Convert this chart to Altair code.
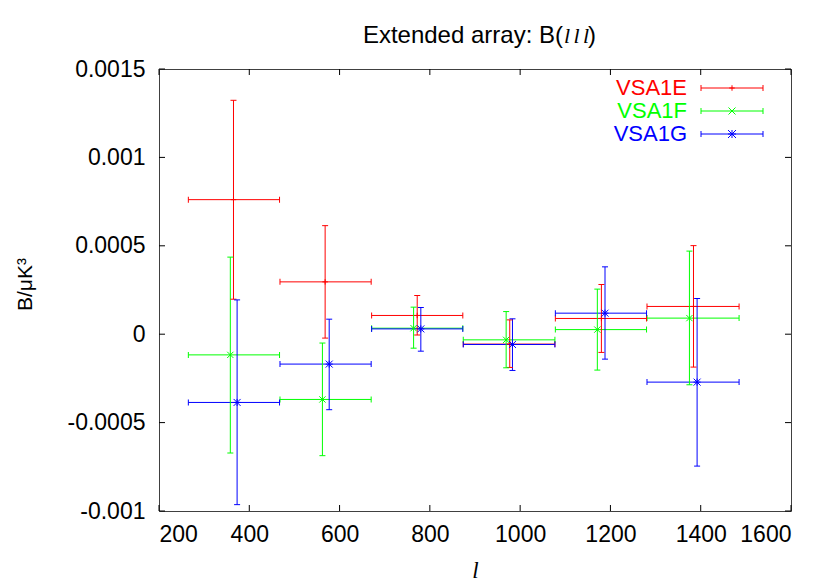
import altair as alt
import pandas as pd

series = ["VSA1E", "VSA1F", "VSA1G"]
colors = ["#ff0000", "#00ff00", "#0000ff"]

bin_lo = [265, 468, 671, 874, 1078, 1281]
bin_hi = [467, 670, 873, 1077, 1280, 1485]

x_e = [365, 568, 772, 977, 1180, 1384]
y_e = [0.000761, 0.000296, 0.000106, -0.000056, 0.000089, 0.000157]
lo_e = [0.000198, -0.000022, -0.000005, -0.000188, -0.000103, -0.000186]
hi_e = [0.001323, 0.000614, 0.000219, 0.000081, 0.000281, 0.000501]

x_f = [358, 562, 764, 969, 1171, 1375]
y_f = [-0.000117, -0.000369, 0.000034, -0.000032, 0.000026, 0.000091]
lo_f = [-0.000672, -0.000687, -0.000079, -0.000190, -0.000203, -0.000286]
hi_f = [0.000436, -0.000050, 0.000153, 0.000128, 0.000255, 0.000470]

x_g = [373, 577, 780, 983, 1188, 1392]
y_g = [-0.000386, -0.000169, 0.000030, -0.000058, 0.000119, -0.000271]
lo_g = [-0.000964, -0.000427, -0.000096, -0.000205, -0.000141, -0.000746]
hi_g = [0.000194, 0.000085, 0.000151, 0.000087, 0.000381, 0.000202]

x_ticks = [200, 400, 600, 800, 1000, 1200, 1400, 1600]
y_ticks = [-0.001, -0.0005, 0, 0.0005, 0.001, 0.0015]

rows = []
for name, xs_, ys_, los, his in [("VSA1E", x_e, y_e, lo_e, hi_e),
                                 ("VSA1F", x_f, y_f, lo_f, hi_f),
                                 ("VSA1G", x_g, y_g, lo_g, hi_g)]:
    for i in range(len(xs_)):
        rows.append(dict(series=name, x=xs_[i], y=ys_[i], ylo=los[i], yhi=his[i],
                         xlo=bin_lo[i], xhi=bin_hi[i]))
df = pd.DataFrame(rows)

W, H = 632, 442
FONT = "Liberation Sans"
FS = 23

plus_path = "M-1,0H1M0,-1V1"
x_path = "M-1,-1L1,1M-1,1L1,-1"
star_path = "M-1,-1L1,1M-1,1L1,-1M0,-1V1M-1,0H1"

xsc = alt.Scale(domain=[200, 1600], nice=False, zero=False)
ysc = alt.Scale(domain=[-0.001, 0.0015], nice=False, zero=False)
col = alt.Color("series:N", scale=alt.Scale(domain=series, range=colors), legend=None)

xaxis = alt.Axis(values=x_ticks, ticks=False, domain=False, grid=False,
                 labelExpr="'' + datum.value",
                 labelFont=FONT, labelFontSize=FS, labelColor="black", labelPadding=12,
                 title="l", titleFont="Liberation Serif", titleFontStyle="italic",
                 titleFontWeight="normal", titleFontSize=23, titleColor="black",
                 titleX=W / 2, titleY=59, titleBaseline="middle", titleAlign="center")
yaxis = alt.Axis(values=y_ticks, ticks=False, domain=False, grid=False,
                 labelExpr="'' + datum.value",
                 labelFont=FONT, labelFontSize=FS, labelColor="black", labelPadding=14,
                 title="B/μK³", titleFont=FONT, titleFontWeight="normal", titleFontSize=21,
                 titleColor="black", titleX=-134, titleY=215, titleAngle=270,
                 titleBaseline="middle", titleAlign="center")


def X(f):
    return alt.X(f, scale=xsc, axis=xaxis)


def Y(f):
    return alt.Y(f, scale=ysc, axis=yaxis)


base = alt.Chart(df)

hbar = base.mark_rule(strokeWidth=1).encode(x=X("xlo:Q"), x2="xhi:Q", y=Y("y:Q"), color=col)
vbar = base.mark_rule(strokeWidth=1).encode(x=X("x:Q"), y=Y("ylo:Q"), y2="yhi:Q", color=col)
cap1 = base.mark_tick(orient="vertical", size=6, thickness=1, opacity=1).encode(
    x=X("xlo:Q"), y=Y("y:Q"), color=col)
cap2 = base.mark_tick(orient="vertical", size=6, thickness=1, opacity=1).encode(
    x=X("xhi:Q"), y=Y("y:Q"), color=col)
cap3 = base.mark_tick(orient="horizontal", size=6, thickness=1, opacity=1).encode(
    x=X("x:Q"), y=Y("ylo:Q"), color=col)
cap4 = base.mark_tick(orient="horizontal", size=6, thickness=1, opacity=1).encode(
    x=X("x:Q"), y=Y("yhi:Q"), color=col)
pts = base.mark_point(filled=False, strokeWidth=1, opacity=1).encode(
    x=X("x:Q"), y=Y("y:Q"), color=col,
    shape=alt.Shape("series:N", scale=alt.Scale(domain=series, range=[plus_path, x_path, star_path]), legend=None),
    size=alt.Size("series:N", scale=alt.Scale(domain=series, range=[30, 49, 64]), legend=None))

# inward frame ticks
xt = alt.Chart(pd.DataFrame({"xv": x_ticks}))
yt = alt.Chart(pd.DataFrame({"yv": y_ticks}))
tx_top = xt.mark_rule(color="black", strokeWidth=1).encode(
    x=X("xv:Q"), y=alt.value(0), y2=alt.value(6))
tx_bot = xt.mark_rule(color="black", strokeWidth=1).encode(
    x=X("xv:Q"), y=alt.value(H), y2=alt.value(H - 6))
ty_l = yt.mark_rule(color="black", strokeWidth=1).encode(
    y=Y("yv:Q"), x=alt.value(0), x2=alt.value(6))
ty_r = yt.mark_rule(color="black", strokeWidth=1).encode(
    y=Y("yv:Q"), x=alt.value(W - 6), x2=alt.value(W))

# legend
legend_layers = []
for i, (name, c, shp, sz) in enumerate(zip(series, colors, [plus_path, x_path, star_path], [30, 49, 64])):
    ry = 19 + 23 * i
    ld = alt.Chart(alt.Data(values=[{"series": name}]))
    legend_layers += [
        ld.mark_text(align="right", baseline="middle", font=FONT, fontSize=22, color=c).encode(
            text="series:N", x=alt.value(528), y=alt.value(ry)),
        ld.mark_rule(color=c, strokeWidth=1).encode(x=alt.value(542), x2=alt.value(604), y=alt.value(ry)),
        ld.mark_rule(color=c, strokeWidth=1).encode(x=alt.value(542), y=alt.value(ry - 3), y2=alt.value(ry + 3)),
        ld.mark_rule(color=c, strokeWidth=1).encode(x=alt.value(604), y=alt.value(ry - 3), y2=alt.value(ry + 3)),
        ld.mark_point(shape=shp, size=sz, filled=False, strokeWidth=1, color=c, opacity=1).encode(
            x=alt.value(573), y=alt.value(ry)),
    ]

# title with italic l's
t_main = "Extended array: B("
t_ell = "l"
t_close = ")"
td = alt.Chart(alt.Data(values=[{"a": t_main, "b": t_ell, "c": t_close}]))
title_layers = [
    td.mark_text(align="right", baseline="alphabetic", font=FONT, fontSize=24, color="black").encode(
        text="a:N", x=alt.value(404), y=alt.value(-26)),
]
for lx in [405, 414.5, 424]:
    title_layers.append(
        td.mark_text(align="left", baseline="alphabetic", font="Liberation Serif", fontStyle="italic",
                     fontSize=22, color="black").encode(text="b:N", x=alt.value(lx), y=alt.value(-26)))
title_layers.append(
    td.mark_text(align="left", baseline="alphabetic", font=FONT, fontSize=24, color="black").encode(
        text="c:N", x=alt.value(429), y=alt.value(-26)))

chart = alt.layer(
    hbar, vbar, cap1, cap2, cap3, cap4, pts, tx_top, tx_bot, ty_l, ty_r,
    *legend_layers, *title_layers
).properties(
    width=W, height=H,
    autosize=alt.AutoSizeParams(type="none"),
    padding={"left": 151, "top": 61, "right": 30, "bottom": 90},
    background="white",
).configure_view(stroke="#404040", strokeWidth=1)

chart.save("out.html", embed_options={"renderer": "svg", "actions": False})
